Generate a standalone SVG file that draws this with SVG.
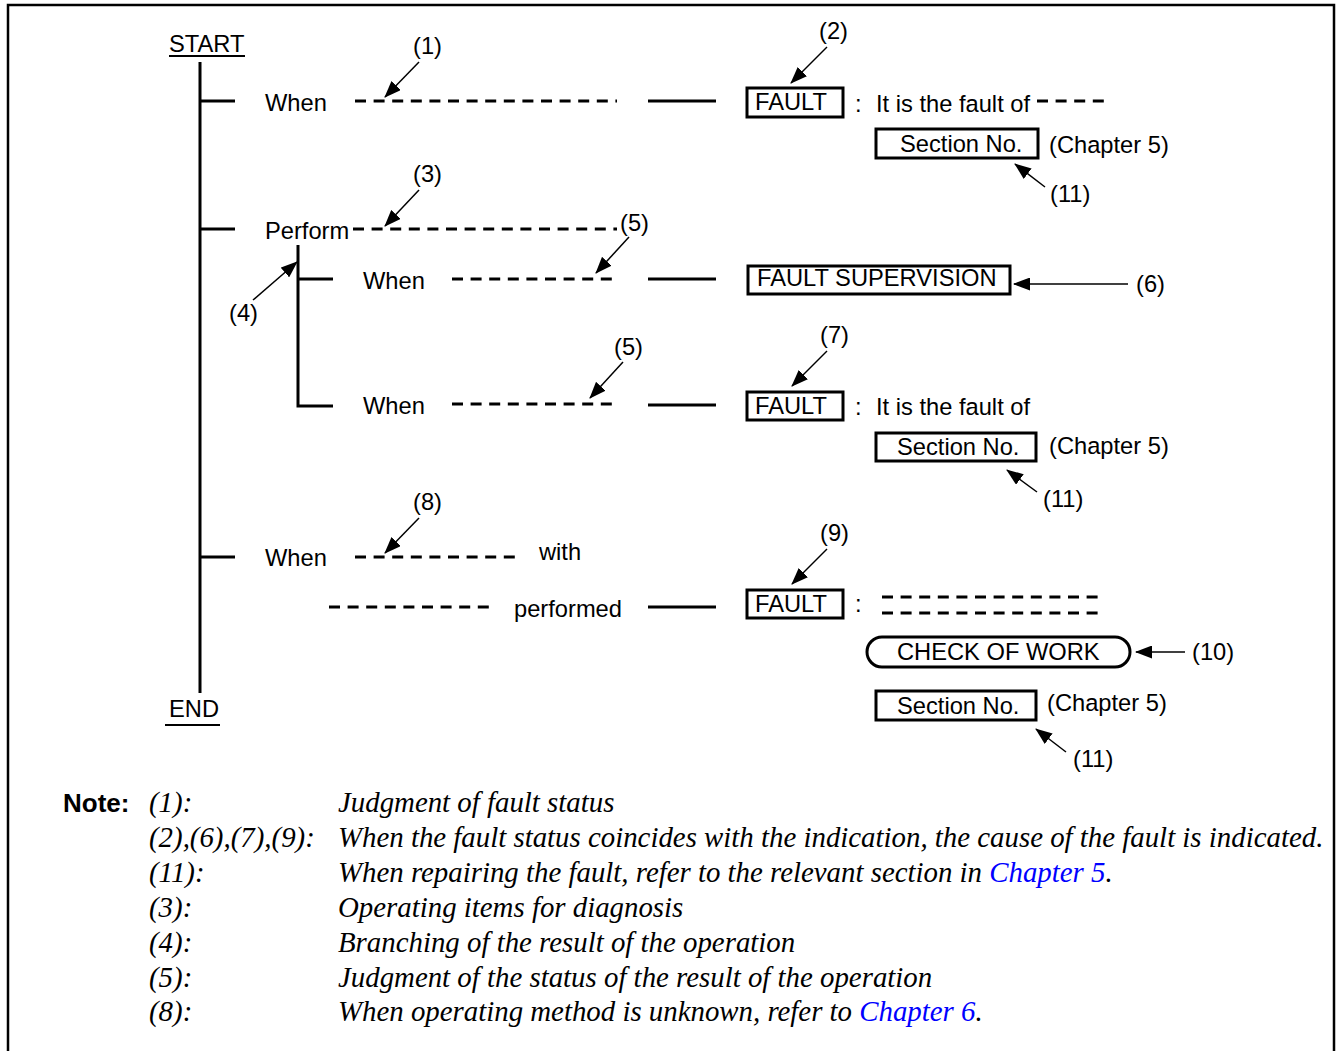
<svg xmlns="http://www.w3.org/2000/svg" width="1336" height="1051" viewBox="0 0 1336 1051">
<style>
text{font-family:"Liberation Sans",Arial,sans-serif;font-size:23.7px;fill:#000}
.n{font-family:"Liberation Serif","Times New Roman",serif;font-style:italic;font-size:28.85px}
.b{font-weight:bold;font-size:26px}
.blue{fill:#0000ff}
.solid{stroke:#000;stroke-width:3;fill:none}
.dash{stroke:#000;stroke-width:3;fill:none;stroke-dasharray:11 7.6}
.box{stroke:#000;stroke-width:3;fill:#fff}
.arr{stroke:#000;stroke-width:1.5;fill:none;marker-end:url(#ah)}
</style>
<defs>
<marker id="ah" markerUnits="userSpaceOnUse" markerWidth="17" markerHeight="13" refX="16" refY="6.5" orient="auto">
<path d="M0,0 L17,6.5 L0,13 z" fill="#000"/>
</marker>
</defs>
<rect width="1336" height="1051" fill="#fff"/>
<path d="M8,1051 V5 H1334 V1051" fill="none" stroke="#000" stroke-width="2.5"/>

<g id="connectors">
<line class="solid" x1="200" y1="62" x2="200" y2="693"/>
<line class="solid" x1="200" y1="101" x2="235" y2="101"/>
<line class="solid" x1="200" y1="229" x2="235" y2="229"/>
<line class="solid" x1="200" y1="557" x2="235" y2="557"/>
<path class="solid" d="M298,245 V406 H333"/>
<line class="solid" x1="298" y1="279" x2="333" y2="279"/>
<line class="dash" x1="355" y1="101" x2="617" y2="101"/>
<line class="solid" x1="648" y1="101" x2="716" y2="101"/>
<line class="dash" x1="1037" y1="101" x2="1105" y2="101"/>
<line class="dash" x1="353" y1="229" x2="617" y2="229"/>
<line class="dash" x1="452" y1="279" x2="617" y2="279"/>
<line class="solid" x1="648" y1="279" x2="716" y2="279"/>
<line class="dash" x1="452" y1="404" x2="617" y2="404"/>
<line class="solid" x1="648" y1="405" x2="716" y2="405"/>
<line class="dash" x1="355" y1="557" x2="520" y2="557"/>
<line class="dash" x1="329" y1="607" x2="494" y2="607"/>
<line class="solid" x1="648" y1="607" x2="716" y2="607"/>
<line class="dash" x1="882" y1="597" x2="1105" y2="597"/>
<line class="dash" x1="882" y1="613" x2="1105" y2="613"/>
<line class="arr" x1="419" y1="62" x2="385" y2="97"/>
<line class="arr" x1="827" y1="47" x2="791" y2="83"/>
<line class="arr" x1="1045" y1="187" x2="1015" y2="164"/>
<line class="arr" x1="419" y1="190" x2="385" y2="226"/>
<line class="arr" x1="253" y1="300" x2="297" y2="262"/>
<line class="arr" x1="629" y1="237" x2="596" y2="273"/>
<line class="arr" x1="1128" y1="284" x2="1014" y2="284"/>
<line class="arr" x1="623" y1="362" x2="590" y2="398"/>
<line class="arr" x1="827" y1="351" x2="792" y2="386"/>
<line class="arr" x1="1037" y1="492" x2="1007" y2="470"/>
<line class="arr" x1="419" y1="518" x2="385" y2="553"/>
<line class="arr" x1="827" y1="549" x2="792" y2="584"/>
<line class="arr" x1="1185" y1="652" x2="1136" y2="652"/>
<line class="arr" x1="1066" y1="752" x2="1036" y2="729"/>
</g>

<g id="start"><text x="169" y="52">START</text><line x1="169" y1="56" x2="245" y2="56" stroke="#000" stroke-width="2"/></g>
<g id="end"><text x="169" y="717">END</text><line x1="165" y1="725" x2="220" y2="725" stroke="#000" stroke-width="2"/></g>

<g id="row1">
<text x="265" y="111">When</text>
<rect class="box" x="747" y="88" width="96" height="29"/>
<text x="755" y="110">FAULT</text>
<text x="855" y="112">:</text>
<text x="876" y="112">It is the fault of</text>
</g>
<g id="sec1"><rect class="box" x="876" y="129" width="162" height="29"/><text x="900" y="152">Section No.</text><text x="1049" y="153">(Chapter 5)</text></g>

<g id="perform"><text x="265" y="239">Perform</text></g>

<g id="row2">
<text x="363" y="289">When</text>
<rect class="box" x="748" y="266" width="262" height="28"/>
<text x="757" y="286">FAULT SUPERVISION</text>
</g>

<g id="row3">
<text x="363" y="414">When</text>
<rect class="box" x="747" y="392" width="96" height="28"/>
<text x="755" y="414">FAULT</text>
<text x="855" y="415">:</text>
<text x="876" y="415">It is the fault of</text>
</g>
<g id="sec2"><rect class="box" x="876" y="433" width="160" height="28"/><text x="897" y="455">Section No.</text><text x="1049" y="454">(Chapter 5)</text></g>

<g id="row4">
<text x="265" y="566">When</text>
<text x="539" y="560">with</text>
<text x="514" y="617">performed</text>
<rect class="box" x="747" y="590" width="96" height="28"/>
<text x="755" y="612">FAULT</text>
<text x="855" y="612">:</text>
</g>
<g id="check"><rect class="box" x="867" y="637" width="263" height="30" rx="15"/><text x="897" y="660">CHECK OF WORK</text></g>
<g id="sec3"><rect class="box" x="876" y="691" width="160" height="29"/><text x="897" y="714">Section No.</text><text x="1047" y="711">(Chapter 5)</text></g>

<g id="labels">
<text x="413" y="54">(1)</text>
<text x="819" y="39">(2)</text>
<text x="413" y="182">(3)</text>
<text x="229" y="321">(4)</text>
<text x="620" y="231">(5)</text>
<text x="614" y="355">(5)</text>
<text x="1136" y="292">(6)</text>
<text x="820" y="343">(7)</text>
<text x="413" y="510">(8)</text>
<text x="820" y="541">(9)</text>
<text x="1192" y="660">(10)</text>
<text x="1050" y="202">(11)</text>
<text x="1043" y="507">(11)</text>
<text x="1073" y="767">(11)</text>
</g>

<g id="notes">
<text class="b" x="63" y="812">Note:</text>
<text class="n" x="149" y="812">(1):</text><text class="n" x="338" y="812">Judgment of fault status</text>
<text class="n" x="149" y="847">(2),(6),(7),(9):</text><text class="n" x="338" y="847">When the fault status coincides with the indication, the cause of the fault is indicated.</text>
<text class="n" x="149" y="882">(11):</text><text class="n" x="338" y="882">When repairing the fault, refer to the relevant section in <tspan class="blue">Chapter 5</tspan>.</text>
<text class="n" x="149" y="917">(3):</text><text class="n" x="338" y="917">Operating items for diagnosis</text>
<text class="n" x="149" y="952">(4):</text><text class="n" x="338" y="952">Branching of the result of the operation</text>
<text class="n" x="149" y="987">(5):</text><text class="n" x="338" y="987">Judgment of the status of the result of the operation</text>
<text class="n" x="149" y="1021">(8):</text><text class="n" x="338" y="1021">When operating method is unknown, refer to <tspan class="blue">Chapter 6</tspan>.</text>
</g>
</svg>
